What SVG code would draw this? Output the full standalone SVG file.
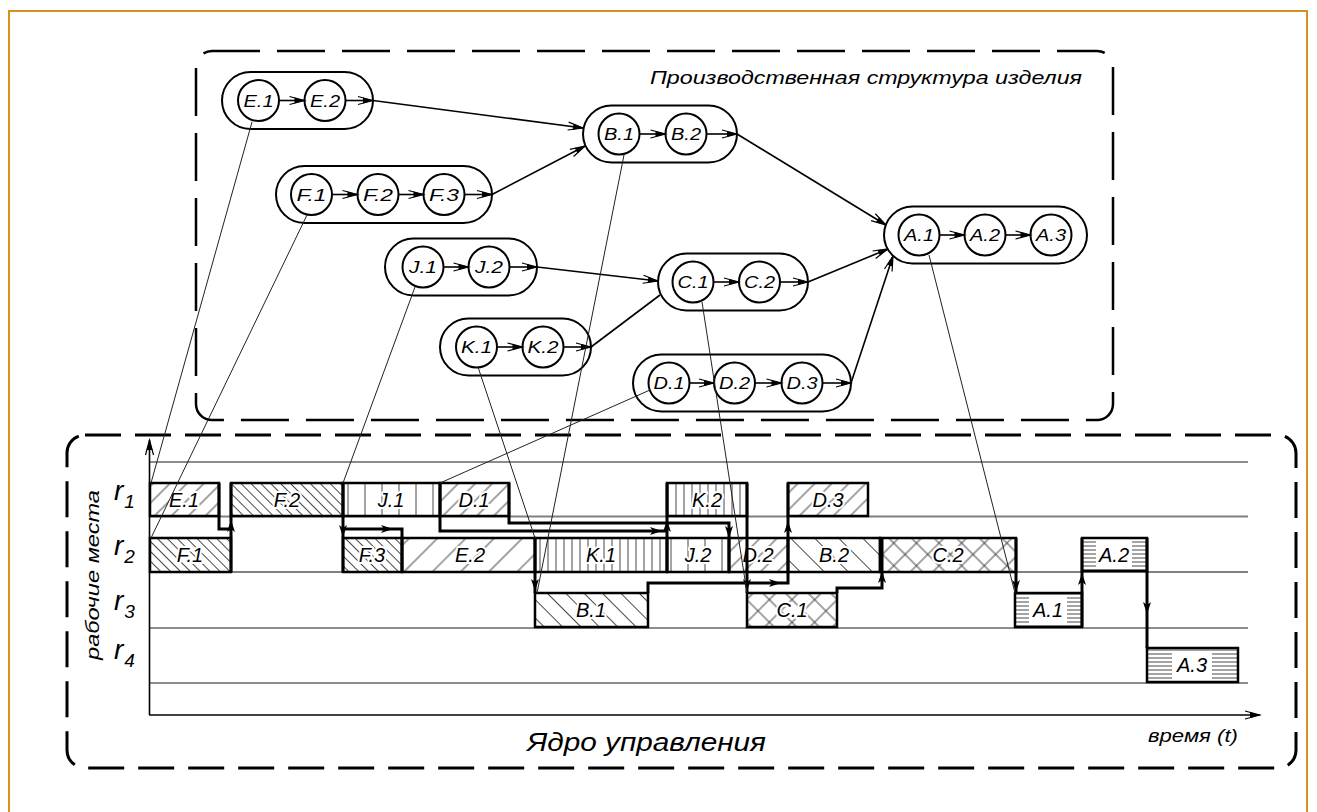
<svg xmlns="http://www.w3.org/2000/svg" xmlns:xlink="http://www.w3.org/1999/xlink" width="1317" height="812" viewBox="0 0 1317 812">
<style>
.pill{fill:#fff;stroke:#000;stroke-width:2}
.circ{fill:#fff;stroke:#000;stroke-width:2}
.ia{stroke:#000;stroke-width:1.6;fill:none;marker-end:url(#dbl)}
.clbl{font-family:"Liberation Sans",Arial,sans-serif;font-style:italic;font-size:16px;text-anchor:middle}
.conn{stroke:#000;stroke-width:1.6;fill:none}
.thin{stroke:#222;stroke-width:1;fill:none}
.bar{stroke:#000;stroke-width:2.5}
.blbl{font-family:"Liberation Sans",Arial,sans-serif;font-style:italic;font-size:20px;text-anchor:middle;paint-order:stroke;stroke:#fff;stroke-width:4;stroke-linejoin:round}
.flow{stroke:#000;stroke-width:3;fill:none}
.grid{stroke:#000;stroke-width:0.9}
.gridg{stroke:#808080;stroke-width:2.2}
.ttl{font-family:"Liberation Sans",Arial,sans-serif;font-style:italic}
.rl{font-family:"Liberation Sans",Arial,sans-serif;font-style:italic;font-size:28px}
.sub{font-size:19px}
.hl{stroke:#333;stroke-width:0.9}
</style>
<defs>
<marker id="dbl" viewBox="-18 -6 20 12" refX="0" refY="0" markerWidth="20" markerHeight="12" markerUnits="userSpaceOnUse" orient="auto">
<path d="M-15,-4 L0,0 L-15,4" fill="none" stroke="#000" stroke-width="1.2"/>
<path d="M-10,-3 L0,0 L-10,3 Z" fill="#000"/>
</marker>
<path id="fa" d="M0,0 L-12,-4 L-9,0 L-12,4 Z" fill="#000"/>
<pattern id="fw12" width="12" height="12" patternUnits="userSpaceOnUse" patternTransform="rotate(45)"><line class="hl" x1="6" y1="0" x2="6" y2="12"/></pattern>
<pattern id="fw20" width="20" height="20" patternUnits="userSpaceOnUse" patternTransform="rotate(45)"><line class="hl" x1="10" y1="0" x2="10" y2="20"/></pattern>
<pattern id="bk7" width="7" height="7" patternUnits="userSpaceOnUse" patternTransform="rotate(-45)"><line class="hl" x1="3.5" y1="0" x2="3.5" y2="7"/></pattern>
<pattern id="bk13" width="13" height="13" patternUnits="userSpaceOnUse" patternTransform="rotate(-45)"><line class="hl" x1="6.5" y1="0" x2="6.5" y2="13"/></pattern>
<pattern id="bk17" width="17" height="17" patternUnits="userSpaceOnUse" patternTransform="rotate(-45)"><line class="hl" x1="8.5" y1="0" x2="8.5" y2="17"/></pattern>
<pattern id="vt8" width="8" height="8" patternUnits="userSpaceOnUse"><line class="hl" x1="4" y1="0" x2="4" y2="8"/></pattern>
<pattern id="vt17" width="17" height="17" patternUnits="userSpaceOnUse"><line class="hl" x1="8" y1="0" x2="8" y2="17"/></pattern>
<pattern id="cr16" width="16" height="16" patternUnits="userSpaceOnUse" patternTransform="rotate(45)"><line class="hl" x1="8" y1="0" x2="8" y2="16"/><line class="hl" x1="0" y1="8" x2="16" y2="8"/></pattern>
<pattern id="hz4" width="8" height="4" patternUnits="userSpaceOnUse"><line class="hl" x1="0" y1="2" x2="8" y2="2"/></pattern>
</defs>

<rect x="0" y="0" width="1317" height="812" fill="#fff"/>
<rect x="9" y="11" width="1298" height="830" fill="none" stroke="#D4921F" stroke-width="2"/>

<!-- frames -->
<g id="frame-structure">
<rect x="196" y="51" width="917" height="369" rx="16" fill="none" stroke="#000" stroke-width="2.5" stroke-dasharray="48 17"/>
<text class="ttl" x="650" y="84" font-size="19" textLength="432" lengthAdjust="spacingAndGlyphs">Производственная структура изделия</text>
</g>
<g id="frame-core">
<rect x="67" y="435" width="1229" height="333" rx="18" fill="none" stroke="#000" stroke-width="3" stroke-dasharray="36 14"/>
<text class="ttl" x="527" y="751" font-size="25" textLength="239" lengthAdjust="spacingAndGlyphs">Ядро управления</text>
</g>

<!-- connectors -->
<g id="connectors">
<path class="conn" d="M373,100.5 L583,128" marker-end="url(#dbl)"/>
<path class="conn" d="M492,194.5 L585,146" marker-end="url(#dbl)"/>
<path class="conn" d="M737,134 L886,225" marker-end="url(#dbl)"/>
<path class="conn" d="M537,267 L658,281" marker-end="url(#dbl)"/>
<path class="conn" d="M591,347 L660,295"/>
<path class="conn" d="M808,282 L888,249" marker-end="url(#dbl)"/>
<path class="conn" d="M851,383 L893,256" marker-end="url(#dbl)"/>
</g>

<!-- structure nodes -->
<g id="node-E">
<rect class="pill" x="222" y="72" width="151" height="57" rx="28.5"/>
<circle class="circ" cx="258.5" cy="100.5" r="20.5"/><circle class="circ" cx="325" cy="100.5" r="20.5"/>
<path class="ia" d="M279,100.5 H304.5"/><path class="ia" d="M345.5,100.5 H373"/>
<text class="clbl" x="258.5" y="106.5" textLength="30" lengthAdjust="spacingAndGlyphs">E.1</text>
<text class="clbl" x="325" y="106.5" textLength="30" lengthAdjust="spacingAndGlyphs">E.2</text>
</g>
<g id="node-F">
<rect class="pill" x="276" y="166" width="216" height="57" rx="28.5"/>
<circle class="circ" cx="311.5" cy="194.5" r="20.5"/><circle class="circ" cx="378" cy="194.5" r="20.5"/><circle class="circ" cx="444" cy="194.5" r="20.5"/>
<path class="ia" d="M332,194.5 H357.5"/><path class="ia" d="M398.5,194.5 H423.5"/><path class="ia" d="M464.5,194.5 H492"/>
<text class="clbl" x="311.5" y="200.5" textLength="30" lengthAdjust="spacingAndGlyphs">F.1</text>
<text class="clbl" x="378" y="200.5" textLength="30" lengthAdjust="spacingAndGlyphs">F.2</text>
<text class="clbl" x="444" y="200.5" textLength="30" lengthAdjust="spacingAndGlyphs">F.3</text>
</g>
<g id="node-B">
<rect class="pill" x="583" y="105.5" width="154" height="57" rx="28.5"/>
<circle class="circ" cx="619" cy="134" r="20.5"/><circle class="circ" cx="686" cy="134" r="20.5"/>
<path class="ia" d="M639.5,134 H665.5"/><path class="ia" d="M706.5,134 H737"/>
<text class="clbl" x="619" y="140" textLength="30" lengthAdjust="spacingAndGlyphs">B.1</text>
<text class="clbl" x="686" y="140" textLength="30" lengthAdjust="spacingAndGlyphs">B.2</text>
</g>
<g id="node-J">
<rect class="pill" x="385" y="238.5" width="152" height="57" rx="28.5"/>
<circle class="circ" cx="423" cy="267" r="20.5"/><circle class="circ" cx="489" cy="267" r="20.5"/>
<path class="ia" d="M443.5,267 H468.5"/><path class="ia" d="M509.5,267 H537"/>
<text class="clbl" x="423" y="273" textLength="28" lengthAdjust="spacingAndGlyphs">J.1</text>
<text class="clbl" x="489" y="273" textLength="28" lengthAdjust="spacingAndGlyphs">J.2</text>
</g>
<g id="node-C">
<rect class="pill" x="658" y="253.5" width="150" height="57" rx="28.5"/>
<circle class="circ" cx="693" cy="282" r="20.5"/><circle class="circ" cx="759.5" cy="282" r="20.5"/>
<path class="ia" d="M713.5,282 H739"/><path class="ia" d="M780,282 H808"/>
<text class="clbl" x="693" y="288" textLength="31" lengthAdjust="spacingAndGlyphs">C.1</text>
<text class="clbl" x="759.5" y="288" textLength="31" lengthAdjust="spacingAndGlyphs">C.2</text>
</g>
<g id="node-K">
<rect class="pill" x="440" y="318.5" width="151" height="57" rx="28.5"/>
<circle class="circ" cx="476.5" cy="347" r="20.5"/><circle class="circ" cx="543" cy="347" r="20.5"/>
<path class="ia" d="M497,347 H522.5"/><path class="ia" d="M563.5,347 H591"/>
<text class="clbl" x="476.5" y="353" textLength="31" lengthAdjust="spacingAndGlyphs">K.1</text>
<text class="clbl" x="543" y="353" textLength="31" lengthAdjust="spacingAndGlyphs">K.2</text>
</g>
<g id="node-D">
<rect class="pill" x="633" y="354.5" width="218" height="57" rx="28.5"/>
<circle class="circ" cx="669" cy="383" r="20.5"/><circle class="circ" cx="734.5" cy="383" r="20.5"/><circle class="circ" cx="802" cy="383" r="20.5"/>
<path class="ia" d="M689.5,383 H714"/><path class="ia" d="M755,383 H781.5"/><path class="ia" d="M822.5,383 H851"/>
<text class="clbl" x="669" y="389" textLength="31" lengthAdjust="spacingAndGlyphs">D.1</text>
<text class="clbl" x="734.5" y="389" textLength="31" lengthAdjust="spacingAndGlyphs">D.2</text>
<text class="clbl" x="802" y="389" textLength="31" lengthAdjust="spacingAndGlyphs">D.3</text>
</g>
<g id="node-A">
<rect class="pill" x="884" y="206.5" width="203" height="57" rx="28.5"/>
<circle class="circ" cx="919" cy="235" r="20.5"/><circle class="circ" cx="985" cy="235" r="20.5"/><circle class="circ" cx="1051" cy="235" r="20.5"/>
<path class="ia" d="M939.5,235 H964.5"/><path class="ia" d="M1005.5,235 H1030.5"/>
<text class="clbl" x="919" y="241" textLength="30" lengthAdjust="spacingAndGlyphs">A.1</text>
<text class="clbl" x="985" y="241" textLength="30" lengthAdjust="spacingAndGlyphs">A.2</text>
<text class="clbl" x="1051" y="241" textLength="30" lengthAdjust="spacingAndGlyphs">A.3</text>
</g>

<!-- chart grid and axes -->
<g id="chart-grid">
<line class="grid" x1="150" y1="462" x2="1248" y2="462"/>
<line class="gridg" x1="150" y1="516.5" x2="1248" y2="516.5"/>
<line class="gridg" x1="150" y1="572" x2="1248" y2="572"/>
<line class="grid" x1="150" y1="628" x2="1248" y2="628"/>
<line class="grid" x1="150" y1="683" x2="1248" y2="683"/>
<path d="M149.5,715 V440" stroke="#000" stroke-width="1.6" fill="none" marker-end="url(#dbl)"/>
<path d="M149,715 H1260" stroke="#000" stroke-width="1.6" fill="none" marker-end="url(#dbl)"/>
<text class="ttl" x="1148" y="742" font-size="18" textLength="90" lengthAdjust="spacingAndGlyphs">время (t)</text>
<text class="ttl" transform="translate(99,575) rotate(-90)" x="0" y="0" font-size="18" text-anchor="middle" textLength="170" lengthAdjust="spacingAndGlyphs">рабочие места</text>
<text class="rl" x="114" y="500">r<tspan class="sub" dx="1" dy="8">1</tspan></text>
<text class="rl" x="114" y="555">r<tspan class="sub" dx="1" dy="8">2</tspan></text>
<text class="rl" x="114" y="610">r<tspan class="sub" dx="1" dy="8">3</tspan></text>
<text class="rl" x="114" y="659">r<tspan class="sub" dx="1" dy="8">4</tspan></text>
</g>

<!-- bars -->
<g id="bar-E1"><rect class="bar" x="150" y="483" width="69" height="33" fill="url(#fw12)"/><text class="blbl" x="184" y="507">E.1</text></g>
<g id="bar-F2"><rect class="bar" x="231" y="483" width="112" height="33" fill="url(#bk7)"/><text class="blbl" x="287" y="507">F.2</text></g>
<g id="bar-J1"><rect class="bar" x="343" y="483" width="97" height="33" fill="url(#vt17)"/><text class="blbl" x="391" y="507">J.1</text></g>
<g id="bar-D1"><rect class="bar" x="440" y="483" width="69" height="33" fill="url(#fw12)"/><text class="blbl" x="474" y="507">D.1</text></g>
<g id="bar-K2"><rect class="bar" x="667" y="483" width="80" height="33" fill="url(#vt8)"/><text class="blbl" x="707" y="507">K.2</text></g>
<g id="bar-D3"><rect class="bar" x="788" y="483" width="80" height="33" fill="url(#fw12)"/><text class="blbl" x="828" y="507">D.3</text></g>

<g id="bar-F1"><rect class="bar" x="150" y="538" width="81" height="34" fill="url(#bk7)"/><text class="blbl" x="190" y="562">F.1</text></g>
<g id="bar-F3"><rect class="bar" x="343" y="538" width="59" height="34" fill="url(#bk7)"/><text class="blbl" x="372" y="562">F.3</text></g>
<g id="bar-E2"><rect class="bar" x="402" y="538" width="133" height="34" fill="url(#fw20)"/><text class="blbl" x="470" y="562">E.2</text></g>
<g id="bar-K1"><rect class="bar" x="535" y="538" width="132" height="34" fill="url(#vt8)"/><text class="blbl" x="601" y="562">K.1</text></g>
<g id="bar-J2"><rect class="bar" x="667" y="538" width="62" height="34" fill="url(#vt17)"/><text class="blbl" x="698" y="562">J.2</text></g>
<g id="bar-D2"><rect class="bar" x="729" y="538" width="59" height="34" fill="url(#fw12)"/><text class="blbl" x="758" y="562">D.2</text></g>
<g id="bar-B2"><rect class="bar" x="788" y="538" width="92" height="34" fill="url(#bk17)"/><text class="blbl" x="834" y="562">B.2</text></g>
<g id="bar-C2"><rect class="bar" x="880" y="538" width="136" height="34" fill="url(#cr16)"/><text class="blbl" x="948" y="562">C.2</text></g>
<g id="bar-A2"><rect class="bar" x="1082" y="538" width="65" height="33" fill="url(#hz4)"/><rect x="1096" y="541" width="36" height="27" fill="#fff"/><text class="blbl" x="1114" y="562">A.2</text></g>

<g id="bar-B1"><rect class="bar" x="535" y="593" width="113" height="34" fill="url(#bk13)"/><text class="blbl" x="591" y="617">B.1</text></g>
<g id="bar-C1"><rect class="bar" x="747" y="593" width="90" height="34" fill="url(#cr16)"/><text class="blbl" x="792" y="617">C.1</text></g>
<g id="bar-A1"><rect class="bar" x="1015" y="593" width="67" height="34" fill="url(#hz4)"/><rect x="1029" y="596" width="38" height="28" fill="#fff"/><text class="blbl" x="1048" y="617">A.1</text></g>

<g id="bar-A3"><rect class="bar" x="1147" y="648" width="91" height="34" fill="url(#hz4)"/><rect x="1172" y="651" width="40" height="28" fill="#fff"/><text class="blbl" x="1192" y="672">A.3</text></g>

<!-- flow lines on the chart -->
<g id="flows">
<path class="flow" d="M219,483 V529 H231"/>
<path class="flow" d="M231,572 V483"/>
<path class="flow" d="M343,483 V572"/>
<path class="flow" d="M343,529 H402 V572"/>
<path class="flow" d="M440,483 V531 H667"/>
<path class="flow" d="M667,572 V483"/>
<path class="flow" d="M509,483 V523 H729 V572"/>
<path class="flow" d="M747,483 V593"/>
<path class="flow" d="M648,593 V583 H788 V483"/>
<path class="flow" d="M535,538 V593"/>
<path class="flow" d="M837,593 V588 H882 V538"/>
<path class="flow" d="M1016,538 V593"/>
<path class="flow" d="M1082,627 V538"/>
<path class="flow" d="M1147,538 V648"/>
<use xlink:href="#fa" transform="translate(231,520) rotate(-90)"/>
<use xlink:href="#fa" transform="translate(343,537) rotate(90)"/>
<use xlink:href="#fa" transform="translate(393,529)"/>
<use xlink:href="#fa" transform="translate(662,531)"/>
<use xlink:href="#fa" transform="translate(667,520) rotate(-90)"/>
<use xlink:href="#fa" transform="translate(729,538) rotate(90)"/>
<use xlink:href="#fa" transform="translate(747,591) rotate(90)"/>
<use xlink:href="#fa" transform="translate(781,583)"/>
<use xlink:href="#fa" transform="translate(788,521) rotate(-90)"/>
<use xlink:href="#fa" transform="translate(535,591) rotate(90)"/>
<use xlink:href="#fa" transform="translate(882,571) rotate(-90)"/>
<use xlink:href="#fa" transform="translate(1016,592) rotate(90)"/>
<use xlink:href="#fa" transform="translate(1082,573) rotate(-90)"/>
<use xlink:href="#fa" transform="translate(1147,614) rotate(90)"/>
</g>

<!-- thin links from operations to bars -->
<g id="links">
<path class="thin" d="M252,122 L151,483"/>
<path class="thin" d="M307,215 L151,538"/>
<path class="thin" d="M415,287 L343,483"/>
<path class="thin" d="M478,367 L535,538"/>
<path class="thin" d="M624,155 L537,593"/>
<path class="thin" d="M650,390 L440,483"/>
<path class="thin" d="M702,302 L747,593"/>
<path class="thin" d="M929,255 L1015,593"/>
</g>
</svg>
